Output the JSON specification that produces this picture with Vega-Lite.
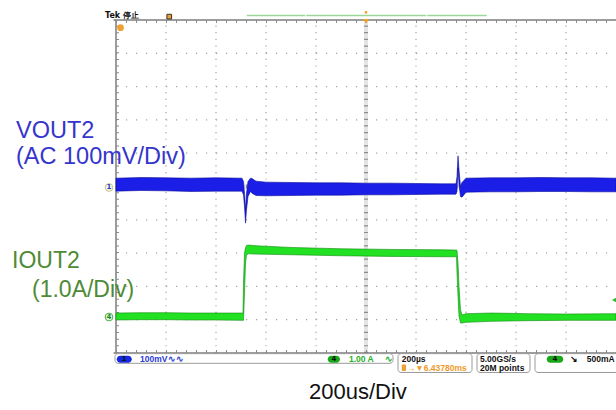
{
  "$schema": "https://vega.github.io/schema/vega-lite/v6.json",
  "width": 616,
  "height": 410,
  "autosize": "none",
  "padding": 0,
  "background": "white",
  "config": {"view": {"stroke": null}},
  "encoding": {
    "x": {"field": "t", "type": "quantitative", "scale": {"domain": [-1464, 1000], "nice": false, "zero": false}, "axis": null},
    "y": {"field": "v", "type": "quantitative", "scale": {"domain": [-6.712, 5.6], "nice": false, "zero": false}, "axis": null}
  },
  "layer": [
    {
      "data": {"values": [{"t": -800, "v": -5, "v2": 5}, {"t": -600, "v": -5, "v2": 5}, {"t": -400, "v": -5, "v2": 5}, {"t": -200, "v": -5, "v2": 5}, {"t": 200, "v": -5, "v2": 5}, {"t": 400, "v": -5, "v2": 5}, {"t": 600, "v": -5, "v2": 5}, {"t": 800, "v": -5, "v2": 5}]},
      "mark": {"type": "rule", "color": "#a4a4a4", "strokeWidth": 1.2, "strokeDash": [1.2, 5.46]},
      "encoding": {"y2": {"field": "v2"}}
    },
    {
      "data": {"values": [{"t": -1000, "t2": 1000, "v": -4}, {"t": -1000, "t2": 1000, "v": -3}, {"t": -1000, "t2": 1000, "v": -2}, {"t": -1000, "t2": 1000, "v": -1}, {"t": -1000, "t2": 1000, "v": 1}, {"t": -1000, "t2": 1000, "v": 2}, {"t": -1000, "t2": 1000, "v": 3}, {"t": -1000, "t2": 1000, "v": 4}]},
      "mark": {"type": "rule", "color": "#a4a4a4", "strokeWidth": 1.2, "strokeDash": [1.2, 8.8]},
      "encoding": {"x2": {"field": "t2"}}
    },
    {
      "data": {"values": [{"t": 0, "v": -5, "v2": 5}]},
      "mark": {"type": "rule", "color": "#e4e4e4", "strokeWidth": 4},
      "encoding": {"y2": {"field": "v2"}}
    },
    {
      "data": {"values": [{"t": -1000, "t2": 1000, "v": 0}]},
      "mark": {"type": "rule", "color": "#e4e4e4", "strokeWidth": 4},
      "encoding": {"x2": {"field": "t2"}}
    },
    {
      "data": {"values": [{"t": 0, "v": -5, "v2": 5}]},
      "mark": {"type": "rule", "color": "#8c8c8c", "strokeWidth": 4, "strokeDash": [1.2, 5.46]},
      "encoding": {"y2": {"field": "v2"}}
    },
    {
      "data": {"values": [{"t": -1000, "t2": 1000, "v": 0}]},
      "mark": {"type": "rule", "color": "#8c8c8c", "strokeWidth": 4, "strokeDash": [1.2, 8.8]},
      "encoding": {"x2": {"field": "t2"}}
    },
    {
      "data": {"values": [{"t": -1010, "t2": 1000, "v": 5}, {"t": -1010, "t2": 1000, "v": -5}]},
      "mark": {"type": "rule", "color": "#7c7c7c", "strokeWidth": 1.5},
      "encoding": {"x2": {"field": "t2"}}
    },
    {
      "data": {"values": [{"t": -1000, "v": -5, "v2": 5}]},
      "mark": {"type": "rule", "color": "#7c7c7c", "strokeWidth": 1.5},
      "encoding": {"y2": {"field": "v2"}}
    },
    {
      "data": {"values": [{"t": -1000, "t2": 1000, "v": 4.955}, {"t": -1000, "t2": 1000, "v": -4.955}]},
      "mark": {"type": "rule", "color": "#8a8a8a", "strokeWidth": 3, "strokeDash": [1, 9]},
      "encoding": {"x2": {"field": "t2"}}
    },
    {
      "data": {"values": [{"t": -994, "v": -5, "v2": 5}]},
      "mark": {"type": "rule", "color": "#8a8a8a", "strokeWidth": 3, "strokeDash": [1, 5.66]},
      "encoding": {"y2": {"field": "v2"}}
    },
    {
      "data": {"values": [
        {"t": -1000, "v": -0.14, "v2": 0.25}, {"t": -900, "v": -0.12, "v2": 0.27}, {"t": -800, "v": -0.13, "v2": 0.26},
        {"t": -700, "v": -0.15, "v2": 0.25}, {"t": -600, "v": -0.14, "v2": 0.26}, {"t": -496, "v": -0.14, "v2": 0.25},
        {"t": -490, "v": -0.25, "v2": 0.15}, {"t": -486, "v": -0.6, "v2": -0.2}, {"t": -482, "v": -1.1, "v2": -0.7},
        {"t": -478, "v": -0.7, "v2": -0.2}, {"t": -472, "v": -0.3, "v2": 0.15}, {"t": -462, "v": -0.15, "v2": 0.25},
        {"t": -456, "v": -0.2, "v2": 0.24}, {"t": -440, "v": -0.27, "v2": 0.16}, {"t": -400, "v": -0.28, "v2": 0.13},
        {"t": -300, "v": -0.27, "v2": 0.12}, {"t": -200, "v": -0.26, "v2": 0.11}, {"t": -100, "v": -0.26, "v2": 0.11},
        {"t": 0, "v": -0.25, "v2": 0.1}, {"t": 100, "v": -0.25, "v2": 0.1}, {"t": 200, "v": -0.24, "v2": 0.09},
        {"t": 300, "v": -0.23, "v2": 0.08}, {"t": 360, "v": -0.23, "v2": 0.08}, {"t": 364, "v": -0.15, "v2": 0.3},
        {"t": 368, "v": 0.55, "v2": 0.92}, {"t": 372, "v": 0.05, "v2": 0.5}, {"t": 378, "v": -0.3, "v2": 0.0},
        {"t": 384, "v": -0.32, "v2": 0.12}, {"t": 400, "v": -0.17, "v2": 0.25}, {"t": 500, "v": -0.16, "v2": 0.26},
        {"t": 600, "v": -0.16, "v2": 0.26}, {"t": 700, "v": -0.15, "v2": 0.27}, {"t": 800, "v": -0.15, "v2": 0.26},
        {"t": 900, "v": -0.16, "v2": 0.26}, {"t": 1000, "v": -0.16, "v2": 0.25}
      ]},
      "mark": {"type": "area", "fill": "#1a1ee6", "stroke": "#0c0c9a", "strokeWidth": 0.6, "opacity": 1},
      "encoding": {"y2": {"field": "v2"}}
    },
    {
      "data": {"values": [
        {"t": -1000, "v": -4.01, "v2": -3.8}, {"t": -900, "v": -4.0, "v2": -3.79}, {"t": -800, "v": -4.0, "v2": -3.79},
        {"t": -700, "v": -4.01, "v2": -3.8}, {"t": -600, "v": -4.01, "v2": -3.8}, {"t": -492, "v": -4.02, "v2": -3.8},
        {"t": -490, "v": -4.02, "v2": -2.9}, {"t": -486, "v": -3.2, "v2": -2.0}, {"t": -482, "v": -2.3, "v2": -1.84},
        {"t": -478, "v": -2.06, "v2": -1.77}, {"t": -470, "v": -2.02, "v2": -1.76}, {"t": -440, "v": -2.03, "v2": -1.78},
        {"t": -300, "v": -2.05, "v2": -1.83}, {"t": -100, "v": -2.08, "v2": -1.87}, {"t": 100, "v": -2.1, "v2": -1.89},
        {"t": 300, "v": -2.11, "v2": -1.9}, {"t": 362, "v": -2.11, "v2": -1.91}, {"t": 364, "v": -2.6, "v2": -1.92},
        {"t": 368, "v": -3.3, "v2": -2.3}, {"t": 372, "v": -3.9, "v2": -3.0}, {"t": 378, "v": -4.1, "v2": -3.7},
        {"t": 384, "v": -4.1, "v2": -3.86}, {"t": 400, "v": -4.08, "v2": -3.82}, {"t": 500, "v": -4.05, "v2": -3.8},
        {"t": 650, "v": -4.03, "v2": -3.82}, {"t": 800, "v": -4.02, "v2": -3.83}, {"t": 1000, "v": -4.02, "v2": -3.82}
      ]},
      "mark": {"type": "area", "fill": "#22e022", "stroke": "#128a12", "strokeWidth": 0.6, "opacity": 1},
      "encoding": {"y2": {"field": "v2"}}
    },
    {
      "data": {"values": [{"t": -477, "t2": -243, "v": 5.135}, {"t": -239, "t2": 241, "v": 5.135}, {"t": 245, "t2": 483, "v": 5.135}]},
      "mark": {"type": "rule", "color": "#9bd79b", "strokeWidth": 1.5},
      "encoding": {"x2": {"field": "t2"}}
    },
    {
      "data": {"values": [{"t": 0, "v": 4.96}]},
      "mark": {"type": "point", "shape": "triangle-down", "filled": true, "color": "#f5a020", "size": 30, "opacity": 1}
    },
    {
      "data": {"values": [{"t": 0, "v": 5.23}]},
      "mark": {"type": "point", "shape": "square", "filled": true, "color": "#f5a020", "size": 6, "opacity": 1}
    },
    {
      "data": {"values": [{"t": -982, "v": 4.77}]},
      "mark": {"type": "point", "shape": "circle", "filled": true, "color": "#f0a030", "size": 45, "opacity": 1}
    },
    {
      "data": {"values": [{"t": -787, "v": 5.1}]},
      "mark": {"type": "point", "shape": "square", "filled": true, "fill": "#f0a030", "stroke": "#333333", "strokeWidth": 1, "size": 22, "opacity": 1}
    },
    {
      "data": {"values": [{"t": 992, "v": -3.41}]},
      "mark": {"type": "point", "shape": "triangle-left", "filled": true, "color": "#22bb22", "size": 20, "opacity": 1}
    },
    {
      "data": {"values": [{"t": -1028, "v": -0.03}]},
      "mark": {"type": "point", "shape": "circle", "filled": true, "fill": "#f4f4dc", "stroke": "#c8c890", "strokeWidth": 1, "size": 60, "opacity": 1}
    },
    {
      "data": {"values": [{"t": -1028, "v": -3.92}]},
      "mark": {"type": "point", "shape": "circle", "filled": true, "fill": "#e8f6e0", "stroke": "#4caf4c", "strokeWidth": 1, "size": 60, "opacity": 1}
    },
    {
      "data": {"values": [{"t": -1028, "v": -0.03, "label": "1"}]},
      "mark": {"type": "text", "color": "#2a3ad8", "fontSize": 7, "font": "DejaVu Sans", "fontWeight": "bold", "align": "center", "baseline": "middle"},
      "encoding": {"text": {"field": "label"}}
    },
    {
      "data": {"values": [{"t": -1028, "v": -3.92, "label": "4"}]},
      "mark": {"type": "text", "color": "#1a8a1a", "fontSize": 7, "font": "DejaVu Sans", "fontWeight": "bold", "align": "center", "baseline": "middle"},
      "encoding": {"text": {"field": "label"}}
    },
    {
      "data": {"values": [{"t": -1004, "t2": 108, "v": -5.02, "v2": -5.31}, {"t": 128, "t2": 424, "v": -5.02, "v2": -5.585}, {"t": 444, "t2": 656, "v": -5.02, "v2": -5.585}, {"t": 676, "t2": 1040, "v": -5.02, "v2": -5.585}]},
      "mark": {"type": "rect", "fill": "white", "stroke": "#9a9a9a", "strokeWidth": 1, "cornerRadius": 3},
      "encoding": {"x2": {"field": "t2"}, "y2": {"field": "v2"}}
    },
    {
      "data": {"values": [{"t": -997, "t2": -937, "v": -5.08, "v2": -5.29}]},
      "mark": {"type": "rect", "fill": "#1428e0", "cornerRadius": 3.5},
      "encoding": {"x2": {"field": "t2"}, "y2": {"field": "v2"}}
    },
    {
      "data": {"values": [{"t": -153, "t2": -104, "v": -5.08, "v2": -5.29}, {"t": 723, "t2": 789, "v": -5.08, "v2": -5.29}]},
      "mark": {"type": "rect", "fill": "#18a818", "cornerRadius": 3.5},
      "encoding": {"x2": {"field": "t2"}, "y2": {"field": "v2"}}
    },
    {
      "data": {"values": [{"t": 143, "t2": 160, "v": -5.345, "v2": -5.54}]},
      "mark": {"type": "rect", "fill": "#f0a030", "cornerRadius": 1},
      "encoding": {"x2": {"field": "t2"}, "y2": {"field": "v2"}}
    },
    {
      "data": {"values": [{"t": -967, "v": -5.185, "label": "1"}, {"t": -128, "v": -5.185, "label": "4"}, {"t": 756, "v": -5.185, "label": "4"}]},
      "mark": {"type": "text", "color": "#101010", "fontSize": 7, "font": "DejaVu Sans", "fontWeight": "bold", "align": "center", "baseline": "middle"},
      "encoding": {"text": {"field": "label"}}
    },
    {
      "data": {"values": [{"t": -904, "v": -5.27, "label": "100mV"}, {"t": -792, "v": -5.27, "label": "∿∿"}]},
      "mark": {"type": "text", "color": "#2a3ad8", "fontSize": 8.5, "font": "Liberation Sans", "fontWeight": "bold", "align": "left", "baseline": "alphabetic"},
      "encoding": {"text": {"field": "label"}}
    },
    {
      "data": {"values": [{"t": -68, "v": -5.27, "label": "1.00 A"}, {"t": 76, "v": -5.27, "label": "∿"}]},
      "mark": {"type": "text", "color": "#28b028", "fontSize": 8.5, "font": "Liberation Sans", "fontWeight": "bold", "align": "left", "baseline": "alphabetic"},
      "encoding": {"text": {"field": "label"}}
    },
    {
      "data": {"values": [{"t": 143, "v": -5.27, "label": "200µs"}, {"t": 456, "v": -5.27, "label": "5.00GS/s"}, {"t": 456, "v": -5.54, "label": "20M points"}, {"t": 816, "v": -5.27, "label": "↘"}, {"t": 883, "v": -5.27, "label": "500mA"}]},
      "mark": {"type": "text", "color": "#111111", "fontSize": 8.5, "font": "Liberation Sans", "fontWeight": "bold", "align": "left", "baseline": "alphabetic"},
      "encoding": {"text": {"field": "label"}}
    },
    {
      "data": {"values": [{"t": 163, "v": -5.54, "label": "→▼6.43780ms"}]},
      "mark": {"type": "text", "color": "#f09a28", "fontSize": 8.5, "font": "Liberation Sans", "fontWeight": "bold", "align": "left", "baseline": "alphabetic"},
      "encoding": {"text": {"field": "label"}}
    },
    {
      "data": {"values": [{"t": -1044, "v": 5.05, "label": "Tek 停止"}]},
      "mark": {"type": "text", "color": "#111111", "fontSize": 8, "font": "DejaVu Sans", "fontWeight": "bold", "align": "left", "baseline": "alphabetic"},
      "encoding": {"text": {"field": "label"}}
    },
    {
      "data": {"values": [{"t": -1400, "v": 1.47, "label": "VOUT2"}, {"t": -1400, "v": 0.676, "label": "(AC 100mV/Div)"}]},
      "mark": {"type": "text", "color": "#3535cc", "fontSize": 23.5, "font": "Liberation Sans", "align": "left", "baseline": "alphabetic"},
      "encoding": {"text": {"field": "label"}}
    },
    {
      "data": {"values": [{"t": -1416, "v": -2.447, "label": "IOUT2"}, {"t": -1336, "v": -3.32, "label": "(1.0A/Div)"}]},
      "mark": {"type": "text", "color": "#4f8a35", "fontSize": 23, "font": "Liberation Sans", "align": "left", "baseline": "alphabetic"},
      "encoding": {"text": {"field": "label"}}
    },
    {
      "data": {"values": [{"t": -228, "v": -6.38, "label": "200us/Div"}]},
      "mark": {"type": "text", "color": "#111111", "fontSize": 22, "font": "Liberation Sans", "align": "left", "baseline": "alphabetic"},
      "encoding": {"text": {"field": "label"}}
    }
  ]
}
